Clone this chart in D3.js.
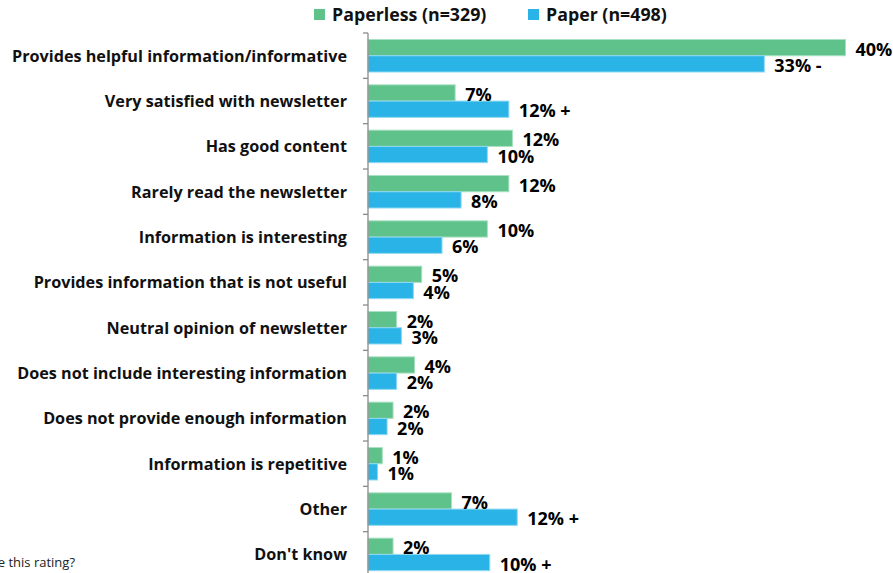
<!DOCTYPE html>
<html>
<head>
<meta charset="utf-8">
<script src="https://cdn.jsdelivr.net/npm/d3@7"></script>
<style>
  body { margin: 0; background: #fff; }
  svg { display: block; font-family: "Open Sans", Lato, sans-serif; }
</style>
</head>
<body>
<div id="chart"></div>
<script>
const categories = [
  "Provides helpful information/informative",
  "Very satisfied with newsletter",
  "Has good content",
  "Rarely read the newsletter",
  "Information is interesting",
  "Provides information that is not useful",
  "Neutral opinion of newsletter",
  "Does not include interesting information",
  "Does not provide enough information",
  "Information is repetitive",
  "Other",
  "Don't know"
];
const seriesNames = ["Paperless (n=329)", "Paper (n=498)"];
const paperless = [40.0, 7.3, 12.1, 11.8, 10.0, 4.5, 2.4, 3.9, 2.1, 1.2, 7.0, 2.1];
const paper = [33.2, 11.8, 10.0, 7.8, 6.2, 3.8, 2.8, 2.4, 1.6, 0.8, 12.5, 10.2];
const paperlessLabels = ["40%", "7%", "12%", "12%", "10%", "5%", "2%", "4%", "2%", "1%", "7%", "2%"];
const paperLabels = ["33% -", "12% +", "10%", "8%", "6%", "4%", "3%", "2%", "2%", "1%", "12% +", "10% +"];

const width = 893, height = 573;
const colors = ["#60c28b", "#29b3e6"];
const strokes = ["#a9e0c0", "#8fd8f2"];

const svg = d3.select("#chart").append("svg")
  .attr("width", width)
  .attr("height", height);

const x = d3.scaleLinear().domain([0, 40]).range([368, 845.5]);
const y = d3.scaleBand().domain(categories).range([33, 577]);
const ySub = d3.scaleBand().domain(["paperless", "paper"]).range([6.5, 39]);

const rows = categories.map((c, i) => ({
  cat: c,
  bars: [
    { key: "paperless", v: paperless[i], label: paperlessLabels[i], ci: 0 },
    { key: "paper", v: paper[i], label: paperLabels[i], ci: 1 }
  ]
}));

const g = svg.selectAll("g.row").data(rows).enter().append("g")
  .attr("class", "row")
  .attr("transform", d => `translate(0,${y(d.cat)})`);

g.selectAll("rect").data(d => d.bars).enter().append("rect")
  .attr("x", x(0))
  .attr("y", d => ySub(d.key))
  .attr("width", d => x(d.v) - x(0))
  .attr("height", ySub.bandwidth())
  .attr("fill", d => colors[d.ci])
  .attr("stroke", d => strokes[d.ci])
  .attr("stroke-width", 1);

g.selectAll("text.val").data(d => d.bars).enter().append("text")
  .attr("class", "val")
  .attr("x", d => x(d.v) + 10)
  .attr("y", d => ySub(d.key) + ySub.bandwidth() / 2 + 8)
  .attr("font-size", 18)
  .attr("font-weight", "bold")
  .attr("fill", "#000")
  .text(d => d.label);

// category labels
svg.selectAll("text.cat").data(categories).enter().append("text")
  .attr("class", "cat")
  .attr("x", 347)
  .attr("y", d => y(d) + y.bandwidth() / 2 + 6)
  .attr("text-anchor", "end")
  .attr("font-size", 16.2)
  .attr("font-weight", "bold")
  .attr("fill", "#111")
  .text(d => d);

// axis line with ticks on the band edges
const axis = svg.append("g");
axis.append("line")
  .attr("x1", x(0)).attr("x2", x(0))
  .attr("y1", y.range()[0]).attr("y2", y.range()[1])
  .attr("stroke", "#8c8c8c").attr("stroke-width", 1.3);
axis.selectAll("line.tick").data(categories).enter().append("line")
  .attr("class", "tick")
  .attr("x1", x(0) - 5).attr("x2", x(0))
  .attr("y1", d => y(d)).attr("y2", d => y(d))
  .attr("stroke", "#8c8c8c").attr("stroke-width", 1.3);

// legend
const legX = [314, 528];
const leg = svg.selectAll("g.leg").data(seriesNames).enter().append("g")
  .attr("class", "leg")
  .attr("transform", (d, i) => `translate(${legX[i]},0)`);
leg.append("rect")
  .attr("x", 0).attr("y", 9)
  .attr("width", 11).attr("height", 11)
  .attr("fill", (d, i) => colors[i]);
leg.append("text")
  .attr("x", 18).attr("y", 21)
  .attr("font-size", 17.8)
  .attr("font-weight", "bold")
  .attr("fill", "#111")
  .text(d => d);

// footnote cut off at the left edge
svg.append("text")
  .attr("x", 75).attr("y", 567)
  .attr("text-anchor", "end")
  .attr("font-size", 13)
  .attr("fill", "#222")
  .text("Q. Why did you give this rating?");
</script>
</body>
</html>
